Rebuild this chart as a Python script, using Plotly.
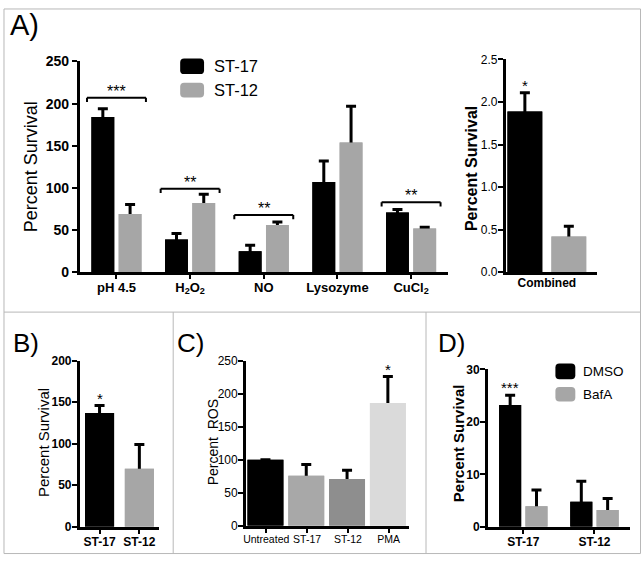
import plotly.graph_objects as go

W, H = 642, 563
FONT = "Liberation Sans, Arial, sans-serif"
BLACK = "#000000"
GRAY = "#a6a6a6"

# ---------------- data ----------------
a_categories = ["pH 4.5", "H<sub>2</sub>O<sub>2</sub>", "NO", "Lysozyme", "CuCl<sub>2</sub>"]
a_st17 = [184, 39, 25, 107, 71]
a_st17_err = [10, 7, 7, 25, 3.5]
a_st12 = [69, 82, 56, 154, 52]
a_st12_err = [11.5, 10.5, 3.5, 43, 1.5]
a_bracket_cat = [0, 1, 2, 4]
a_bracket_y = [207, 99, 68, 83]
a_bracket_label = ["***", "**", "**", "**"]

comb_categories = ["Combined"]
comb_st17 = [1.89]
comb_st17_err = [0.22]
comb_st12 = [0.42]
comb_st12_err = [0.12]

b_categories = ["ST-17", "ST-12"]
b_values = [137, 70]
b_err = [9, 29]
b_colors = [BLACK, GRAY]

c_categories = ["Untreated", "ST-17", "ST-12", "PMA"]
c_values = [100, 76, 71, 186]
c_err = [0, 17, 13, 40]
c_colors = ["#000000", "#a8a8a8", "#8e8e8e", "#dadada"]

d_categories = ["ST-17", "ST-12"]
d_dmso = [23.2, 4.8]
d_dmso_err = [1.9, 3.9]
d_bafa = [3.9, 3.2]
d_bafa_err = [3.1, 2.2]


def px_x(p):
    return p / W


def px_y(p):
    return 1 - p / H


fig = go.Figure()


def bars(x, y, err, color, xa, ya, width, offset, name=None):
    # bar with error bar, then identical bar on top hiding the lower half of the error bar
    fig.add_trace(go.Bar(
        x=x, y=y, marker=dict(color=color, line=dict(width=0)), width=width, offset=offset,
        error_y=dict(type="data", array=err, symmetric=True, color=BLACK, thickness=3, width=5),
        xaxis=xa, yaxis=ya, showlegend=False, name=name or "", hoverinfo="skip"))
    fig.add_trace(go.Bar(
        x=x, y=y, marker=dict(color=color, line=dict(width=0)), width=width, offset=offset,
        xaxis=xa, yaxis=ya, showlegend=False, name=name or ""))


A_W, A_OFF17, A_OFF12 = 0.31, -0.34, 0.03
COMB_W, COMB_OFF17, COMB_OFF12 = 0.38, -0.43, 0.05
B_W, B_OFF = 0.73, -0.365
C_W, C_OFF = 0.88, -0.46
D_W, D_OFF1, D_OFF2 = 0.31, -0.34, 0.03

# Panel A
bars(a_categories, a_st17, a_st17_err, BLACK, "x", "y", A_W, A_OFF17, "ST-17")
bars(a_categories, a_st12, a_st12_err, GRAY, "x", "y", A_W, A_OFF12, "ST-12")
# Combined
bars(comb_categories, comb_st17, comb_st17_err, BLACK, "x2", "y2", COMB_W, COMB_OFF17, "ST-17")
bars(comb_categories, comb_st12, comb_st12_err, GRAY, "x2", "y2", COMB_W, COMB_OFF12, "ST-12")
# B
bars(b_categories, b_values, b_err, b_colors, "x3", "y3", B_W, B_OFF)
# C
bars(c_categories, c_values, c_err, c_colors, "x4", "y4", C_W, C_OFF)
# D
bars(d_categories, d_dmso, d_dmso_err, BLACK, "x5", "y5", D_W, D_OFF1, "DMSO")
bars(d_categories, d_bafa, d_bafa_err, GRAY, "x5", "y5", D_W, D_OFF2, "BafA")

axis_common = dict(showline=True, linecolor=BLACK, linewidth=2.5,
                   tickwidth=2, tickcolor=BLACK, showgrid=False,
                   zeroline=False, fixedrange=True)


def tf(size, bold=False):
    return dict(family=FONT, size=size, color=BLACK, weight="bold" if bold else "normal")


layout = dict(
    width=W, height=H, autosize=False,
    margin=dict(l=0, r=0, t=0, b=0),
    paper_bgcolor="white", plot_bgcolor="rgba(0,0,0,0)",
    barmode="overlay", showlegend=False,
    font=dict(family=FONT, color=BLACK),
    xaxis=dict(domain=[px_x(77), px_x(447)], anchor="y", type="category", range=[-0.5, 4.5],
               ticks="outside", ticklen=4, tickangle=0, ticklabelstandoff=-3,
               tickfont=tf(13, True), **axis_common),
    yaxis=dict(domain=[px_y(272), px_y(55)], anchor="x", range=[0, 250], dtick=50,
               ticks="outside", ticklen=5, tickfont=tf(14, True), **axis_common),
    xaxis2=dict(domain=[px_x(505), px_x(597)], anchor="y2", type="category", range=[-0.45, 0.55],
                ticks="", tickangle=0, ticklabelstandoff=-2,
                tickfont=tf(12, True), **axis_common),
    yaxis2=dict(domain=[px_y(272), px_y(53)], anchor="x2", range=[0, 2.5], dtick=0.5,
                ticks="outside", ticklen=5, tickformat=".1f", ticklabelstandoff=-2,
                tickfont=tf(12), **axis_common),
    xaxis3=dict(domain=[px_x(77), px_x(157)], anchor="y3", type="category", range=[-0.5, 1.5],
                ticks="outside", ticklen=4, tickangle=0, ticklabelstandoff=-2,
                tickfont=tf(12, True), **axis_common),
    yaxis3=dict(domain=[px_y(534), px_y(363)], anchor="x3", range=[0, 200], dtick=50,
                ticks="outside", ticklen=5, ticklabelstandoff=-2, tickfont=tf(12, True), **axis_common),
    xaxis4=dict(domain=[px_x(244), px_x(408)], anchor="y4", type="category", range=[-0.5, 3.5],
                ticks="outside", ticklen=4, tickangle=0, ticklabelstandoff=-2,
                tickfont=tf(10.5), **axis_common),
    yaxis4=dict(domain=[px_y(533), px_y(363)], anchor="x4", range=[0, 250], dtick=50,
                ticks="outside", ticklen=5, ticklabelstandoff=-2,
                tickfont=tf(12), **axis_common),
    xaxis5=dict(domain=[px_x(487), px_x(630)], anchor="y5", type="category", range=[-0.5, 1.5],
                ticks="outside", ticklen=4, tickangle=0, ticklabelstandoff=-2,
                tickfont=tf(12, True), **axis_common),
    yaxis5=dict(domain=[px_y(534), px_y(372)], anchor="x5", range=[0, 30], dtick=10,
                ticks="outside", ticklen=5, ticklabelstandoff=-2, tickfont=tf(12, True), **axis_common),
)
fig.update_layout(**layout)

shapes = []
annotations = []

# Significance brackets for panel A
for c, yv, lab in zip(a_bracket_cat, a_bracket_y, a_bracket_label):
    x0, x1 = c - 0.4, c + 0.4
    shapes.append(dict(type="line", xref="x", yref="y", x0=x0, x1=x1, y0=yv, y1=yv,
                       line=dict(color=BLACK, width=2)))
    for xe in (x0, x1):
        shapes.append(dict(type="line", xref="x", yref="y", x0=xe, x1=xe, y0=yv, y1=yv - 5,
                           line=dict(color=BLACK, width=2)))
    annotations.append(dict(x=c, y=yv, xref="x", yref="y", text=lab, showarrow=False,
                            yanchor="bottom", yshift=-4, font=dict(family=FONT, size=16, color=BLACK)))

# Stars above single bars (x = category index + bar offset + half width)
star_specs = [
    ("x2", "y2", 0 + COMB_OFF17 + COMB_W / 2, comb_st17[0] + comb_st17_err[0], "*"),
    ("x3", "y3", 0 + B_OFF + B_W / 2, b_values[0] + b_err[0], "*"),
    ("x4", "y4", 3 + C_OFF + C_W / 2, c_values[3] + c_err[3], "*"),
    ("x5", "y5", 0 + D_OFF1 + D_W / 2, d_dmso[0] + d_dmso_err[0], "***"),
]
for xa, ya, xv, yv, lab in star_specs:
    annotations.append(dict(x=xv, y=yv, xref=xa, yref=ya, text=lab, showarrow=False,
                            yanchor="bottom", yshift=-3,
                            font=dict(family=FONT, size=15, color=BLACK)))

# Axis titles
titles = [
    ("Percent Survival", 29, 163, 18, False),
    ("Percent Survival", 471, 165, 16, True),
    ("Percent Survival", 40, 447, 15, False),
    ("Percent  ROS", 211, 447, 14, False),
    ("Percent Survival", 457, 448, 15, True),
]
for txt, xp, yp, sz, bold in titles:
    annotations.append(dict(x=px_x(xp), y=px_y(yp), xref="paper", yref="paper", text=txt,
                            textangle=-90, showarrow=False, xanchor="center", yanchor="middle",
                            font=tf(sz, bold)))

# Panel labels
for lab, xp, yp, sz in [("A)", 5, 18, 29), ("B)", 8, 345, 26), ("C)", 173, 345, 26), ("D)", 435, 345, 26)]:
    annotations.append(dict(x=px_x(xp), y=px_y(yp), xref="paper", yref="paper", text=lab,
                            showarrow=False, xanchor="left", yanchor="middle",
                            font=dict(family=FONT, size=sz, color=BLACK)))


# Legends (rounded swatches + text)
def rounded(x0, y0, x1, y1, r):
    X = lambda p: px_x(p)
    Y = lambda p: px_y(p)
    return (f"M {X(x0 + r)},{Y(y0)} L {X(x1 - r)},{Y(y0)} Q {X(x1)},{Y(y0)} {X(x1)},{Y(y0 + r)} "
            f"L {X(x1)},{Y(y1 - r)} Q {X(x1)},{Y(y1)} {X(x1 - r)},{Y(y1)} "
            f"L {X(x0 + r)},{Y(y1)} Q {X(x0)},{Y(y1)} {X(x0)},{Y(y1 - r)} "
            f"L {X(x0)},{Y(y0 + r)} Q {X(x0)},{Y(y0)} {X(x0 + r)},{Y(y0)} Z")


legend_items = [
    ("ST-17", BLACK, 178, 52, 202, 68, 210, 16.5),
    ("ST-12", GRAY, 178, 77, 202, 92, 210, 16.5),
    ("DMSO", BLACK, 555, 366, 575, 382, 581, 13.5),
    ("BafA", GRAY, 555, 390, 575, 405, 581, 13.5),
]
for txt, col, x0, y0, x1, y1, tx, sz in legend_items:
    shapes.append(dict(type="path", xref="paper", yref="paper", path=rounded(x0, y0, x1, y1, 4),
                       fillcolor=col, line=dict(width=0)))
    annotations.append(dict(x=px_x(tx), y=px_y((y0 + y1) / 2), xref="paper", yref="paper", text=txt,
                            showarrow=False, xanchor="left", yanchor="middle",
                            font=dict(family=FONT, size=sz, color=BLACK)))

# Panel frame lines
BORDER = "#b8b8b8"
shapes.append(dict(type="rect", xref="paper", yref="paper", x0=px_x(1), x1=px_x(640.5),
                   y0=px_y(561.5), y1=px_y(1), line=dict(color=BORDER, width=1)))
shapes.append(dict(type="line", xref="paper", yref="paper", x0=px_x(1), x1=px_x(640.5),
                   y0=px_y(313), y1=px_y(313), line=dict(color=BORDER, width=1)))
for xv in (171, 425):
    shapes.append(dict(type="line", xref="paper", yref="paper", x0=px_x(xv), x1=px_x(xv),
                       y0=px_y(313), y1=px_y(561.5), line=dict(color=BORDER, width=1)))

fig.update_layout(shapes=shapes, annotations=annotations)
fig.write_html("out.html", config={"displayModeBar": False},
               post_script="document.body.style.margin='0px';document.body.style.padding='0px';"
                           "document.body.style.overflow='hidden';")
